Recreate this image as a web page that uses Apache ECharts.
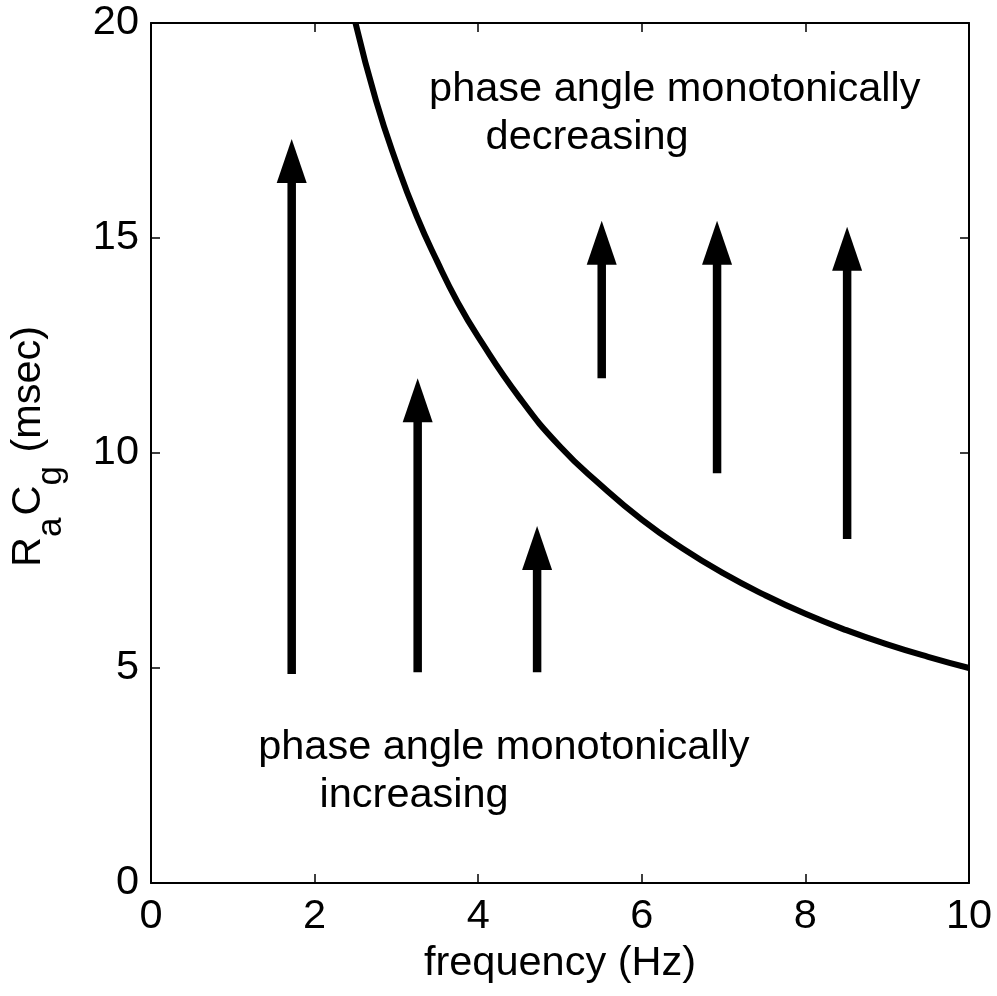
<!DOCTYPE html>
<html>
<head>
<meta charset="utf-8">
<script src="https://cdn.jsdelivr.net/npm/echarts@6/dist/echarts.min.js"></script>
<style>html,body{margin:0;padding:0;background:#fff}#c{width:997px;height:996px}</style>
</head>
<body>
<div id="c"></div>
<script>
// boundary curve (frequency Hz, RaCg msec)
const curveF = [2.5, 2.75, 3.0, 3.25, 3.5, 3.75, 4.0, 4.5, 5.0, 5.5, 6.0, 6.5, 7.0, 7.5, 8.0, 8.5, 9.0, 9.5, 10.0];
const curveV = [20.0, 18.2, 16.75, 15.5, 14.45, 13.5, 12.7, 11.3, 10.15, 9.25, 8.45, 7.78, 7.2, 6.7, 6.26, 5.88, 5.55, 5.26, 5.0];
// arrows: x position, start value, tip value
const arrowX = [1.72, 3.26, 4.72, 5.51, 6.92, 8.51];
const arrowStart = [4.86, 4.9, 4.9, 11.74, 9.53, 8.0];
const arrowTip = [17.3, 11.74, 8.3, 15.4, 15.4, 15.26];
// annotation lines: text, anchor x, anchor y (data coords)
const noteText = ['phase angle monotonically', 'decreasing', 'phase angle monotonically', 'increasing'];
const noteX = [3.40, 4.09, 1.31, 2.06];
const noteY = [18.45, 17.33, 3.14, 2.03];
const xTicks = [0, 2, 4, 6, 8, 10];
const yTicks = [0, 5, 10, 15, 20];
// y-axis title pieces: text, subscript flag
const yTitleParts = ['R', 'a', 'C', 'g', ' (msec)'];
const yTitleSub = [false, true, false, true, false];

const FONT = "'Liberation Sans', Arial, Helvetica, sans-serif";
const FS = 41.5, SFS = 35;
const chart = echarts.init(document.getElementById('c'), null, {renderer: 'canvas'});

// lay out the y title pieces along the reading direction
const mctx = document.createElement('canvas').getContext('2d');
let adv = 0;
const yTitleEls = yTitleParts.map((t, i) => {
  const fs = yTitleSub[i] ? SFS : FS;
  mctx.font = fs + 'px ' + FONT;
  const el = {type: 'text', x: adv, y: yTitleSub[i] ? 8 : -14,
    style: {text: t, fill: '#000', font: fs + 'px ' + FONT, align: 'left', verticalAlign: 'middle'}};
  adv += mctx.measureText(t).width + (yTitleSub[i] ? 2 : 0);
  return el;
});

const axisCommon = {
  axisLine: {show: true, onZero: false, lineStyle: {color: '#000', width: 2}},
  axisTick: {show: true, inside: true, length: 9, lineStyle: {color: '#000', width: 1.5}},
  splitLine: {show: false}
};

chart.setOption({
  animation: false,
  backgroundColor: '#fff',
  grid: {left: 151, right: 28, top: 23, bottom: 113, containLabel: false, outerBoundsMode: 'none'},
  xAxis: [
    Object.assign({type: 'value', min: xTicks[0], max: xTicks[xTicks.length - 1], interval: 2, position: 'bottom',
      name: 'frequency (Hz)', nameLocation: 'middle', nameGap: 54,
      nameTextStyle: {fontFamily: FONT, fontSize: FS, color: '#000'},
      axisLabel: {fontFamily: FONT, fontSize: FS, color: '#000', margin: 13}}, axisCommon),
    Object.assign({type: 'value', min: xTicks[0], max: xTicks[xTicks.length - 1], interval: 2, position: 'top',
      axisLabel: {show: false}}, axisCommon)
  ],
  yAxis: [
    Object.assign({type: 'value', min: yTicks[0], max: yTicks[yTicks.length - 1], interval: 5, position: 'left',
      axisLabel: {fontFamily: FONT, fontSize: FS, color: '#000', margin: 12}}, axisCommon),
    Object.assign({type: 'value', min: yTicks[0], max: yTicks[yTicks.length - 1], interval: 5, position: 'right',
      axisLabel: {show: false}}, axisCommon)
  ],
  graphic: {elements: [
    {type: 'group', x: 43, y: 567, rotation: Math.PI / 2, children: yTitleEls}
  ]},
  series: [
    {
      type: 'line',
      data: curveF.map((f, i) => [f, curveV[i]]),
      smooth: 0.5,
      symbol: 'none',
      lineStyle: {color: '#000', width: 6, join: 'round'},
      clip: true,
      z: 3
    },
    {
      type: 'custom',
      data: arrowX.map((x, i) => [x, arrowStart[i], arrowTip[i]]),
      renderItem: function (params, api) {
        const x = api.value(0);
        const p0 = api.coord([x, api.value(1)]);
        const p1 = api.coord([x, api.value(2)]);
        const headLen = 44, headHalf = 15, shaftHalf = 4.25;
        const baseY = p1[1] + headLen;
        return {
          type: 'group',
          children: [
            {type: 'rect', shape: {x: p0[0] - shaftHalf, y: baseY - 1, width: shaftHalf * 2, height: p0[1] - baseY + 1},
              style: {fill: '#000'}},
            {type: 'polygon', shape: {points: [[p1[0], p1[1]], [p1[0] + headHalf, baseY], [p1[0] - headHalf, baseY]]},
              style: {fill: '#000'}}
          ]
        };
      },
      z: 4
    },
    {
      type: 'custom',
      data: noteText.map((t, i) => [noteX[i], noteY[i], i]),
      renderItem: function (params, api) {
        const p = api.coord([api.value(0), api.value(1)]);
        return {
          type: 'text',
          x: p[0], y: p[1],
          style: {text: noteText[api.value(2)], fill: '#000', font: FS + 'px ' + FONT,
            align: 'left', verticalAlign: 'middle'}
        };
      },
      z: 5
    }
  ]
});
</script>
</body>
</html>
